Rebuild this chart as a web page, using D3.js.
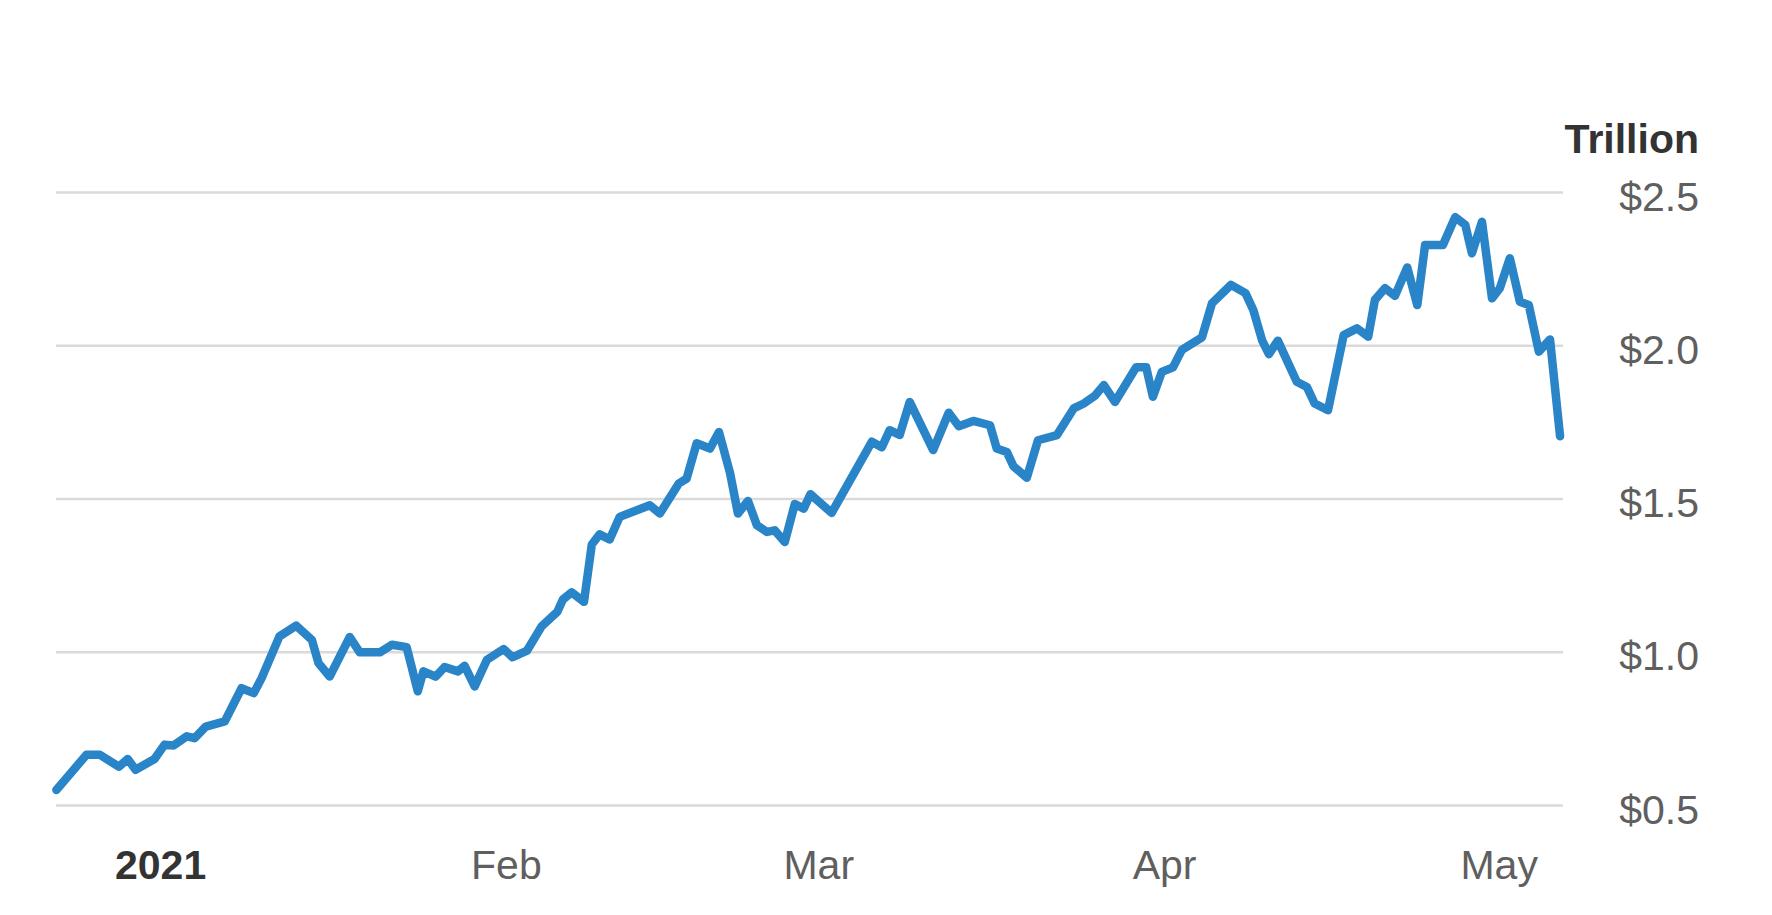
<!DOCTYPE html>
<html>
<head>
<meta charset="utf-8">
<script src="https://cdn.jsdelivr.net/npm/d3@7/dist/d3.min.js"></script>
<style>
  html, body { margin: 0; padding: 0; background: #ffffff; }
  svg { display: block; }
  text { font-family: "Liberation Sans", Arial, Helvetica, sans-serif; }
</style>
</head>
<body>
<svg id="chart" width="1772" height="915"></svg>
<script>
// Days since 1 Jan 2021
const days = [
  -9.3, -6.6, -5.4, -3.7, -2.9, -2.2, -0.5, 0.4, 1.2, 2.4,
  3.1, 4.1, 5.8, 7.3, 8.4, 9.1, 10.7, 12.2, 13.6, 14.2,
  15.2, 17.0, 17.9, 19.7, 20.8, 22.1, 23.1, 23.6, 24.7, 25.5,
  26.7, 27.3, 28.2, 29.3, 30.8, 31.6, 32.9, 34.2, 35.6, 36.1,
  36.9, 38.0, 38.7, 39.4, 40.3, 41.2, 43.9, 44.8, 46.5, 47.2,
  48.1, 49.3, 50.1, 51.1, 51.8, 52.7, 53.5, 54.4, 55.1, 56.0,
  56.9, 57.7, 58.3, 60.2, 63.8, 64.7, 65.4, 66.3, 67.2, 69.3,
  70.7, 71.6, 72.9, 74.4, 75.0, 75.9, 76.5, 77.7, 78.7, 80.4,
  81.9, 82.8, 83.8, 84.6, 85.6, 87.5, 88.4, 89.0, 89.8, 90.8,
  91.6, 93.4, 94.3, 96.0, 97.3, 98.0, 98.8, 99.4, 100.2, 101.9,
  102.8, 103.5, 104.7, 106.1, 107.3, 108.3, 108.9, 109.8, 110.7, 111.8,
  112.7, 113.4, 115.0, 116.1, 117.0, 117.6, 118.5, 119.4, 120.1, 121.0,
  121.9, 122.7, 123.6, 124.6, 125.5
];
// Value in trillions of dollars
const values = [
  0.549, 0.664, 0.664, 0.625, 0.650, 0.615, 0.650, 0.697, 0.694, 0.724,
  0.718, 0.756, 0.773, 0.881, 0.865, 0.914, 1.050, 1.085, 1.039, 0.963,
  0.919, 1.048, 0.998, 0.998, 1.023, 1.015, 0.871, 0.936, 0.919, 0.950,
  0.936, 0.954, 0.887, 0.974, 1.009, 0.982, 1.004, 1.083, 1.130, 1.170,
  1.194, 1.163, 1.350, 1.383, 1.366, 1.440, 1.478, 1.451, 1.549, 1.565,
  1.680, 1.663, 1.717, 1.582, 1.451, 1.492, 1.413, 1.391, 1.396, 1.358,
  1.482, 1.467, 1.514, 1.453, 1.685, 1.667, 1.723, 1.707, 1.815, 1.658,
  1.780, 1.736, 1.753, 1.739, 1.663, 1.652, 1.605, 1.568, 1.690, 1.707,
  1.794, 1.810, 1.835, 1.870, 1.815, 1.928, 1.928, 1.832, 1.913, 1.928,
  1.985, 2.026, 2.137, 2.197, 2.170, 2.115, 2.015, 1.971, 2.015, 1.881,
  1.864, 1.810, 1.788, 2.033, 2.055, 2.028, 2.148, 2.186, 2.161, 2.254,
  2.131, 2.327, 2.327, 2.418, 2.393, 2.300, 2.403, 2.153, 2.186, 2.284,
  2.142, 2.131, 1.979, 2.019, 1.703
];
// Month ticks (days since 1 Jan 2021) and their labels
const monthTicks = [0, 31, 59, 90, 120];
const monthLabels = ["2021", "Feb", "Mar", "Apr", "May"];
// Y ticks
const yTicks = [0.5, 1.0, 1.5, 2.0, 2.5];
const yTickLabels = ["$0.5", "$1.0", "$1.5", "$2.0", "$2.5"];
const unitLabel = "Trillion";

const data = days.map((d, i) => ({ d: d, v: values[i] }));

const svg = d3.select("#chart");
const W = 1772, H = 915;
const plotLeft = 56, plotRight = 1563, plotTop = 192, plotBottom = 805;

svg.append("rect").attr("width", W).attr("height", H).attr("fill", "#ffffff");

// scale: 11.155 px per day, 1 Jan at x = 160.1
const pxPerDay = 11.155, x0 = 160.1;
const x = d3.scaleLinear()
  .domain([(plotLeft - x0) / pxPerDay, (plotRight - x0) / pxPerDay])
  .range([plotLeft, plotRight]);
const y = d3.scaleLinear().domain([0.5, 2.5]).range([plotBottom, plotTop]);

// Y axis with gridlines
const yAxis = d3.axisRight(y)
  .tickValues(yTicks)
  .tickSize(plotRight - plotLeft)
  .tickFormat((d, i) => yTickLabels[i]);
const gy = svg.append("g").attr("transform", `translate(${plotLeft},0)`).call(yAxis);
gy.select(".domain").remove();
gy.selectAll(".tick line").attr("stroke", "#dadada").attr("stroke-width", 2.5);
gy.selectAll(".tick text")
  .attr("x", 1699 - plotLeft)
  .attr("dy", 18)
  .attr("text-anchor", "end")
  .attr("fill", "#5f5f5f")
  .attr("font-size", 41);

// Unit label
svg.append("text")
  .attr("x", 1699).attr("y", 153)
  .attr("text-anchor", "end")
  .attr("font-size", 41)
  .attr("font-weight", "bold")
  .attr("fill", "#333333")
  .text(unitLabel);

// X axis
const xAxis = d3.axisBottom(x)
  .tickValues(monthTicks)
  .tickSize(0)
  .tickFormat((d, i) => monthLabels[i]);
const gx = svg.append("g").attr("transform", `translate(0,${plotBottom})`).call(xAxis);
gx.select(".domain").remove();
gx.selectAll(".tick text")
  .attr("y", 74)
  .attr("dy", 0)
  .attr("font-size", 41)
  .attr("fill", (d, i) => i === 0 ? "#333333" : "#5f5f5f")
  .attr("font-weight", (d, i) => i === 0 ? "bold" : "normal");

// Line
const line = d3.line().x(p => x(p.d)).y(p => y(p.v));
svg.append("path")
  .datum(data)
  .attr("d", line)
  .attr("fill", "none")
  .attr("stroke", "#2a84c8")
  .attr("stroke-width", 8.5)
  .attr("stroke-linejoin", "round")
  .attr("stroke-linecap", "round");
</script>
</body>
</html>
